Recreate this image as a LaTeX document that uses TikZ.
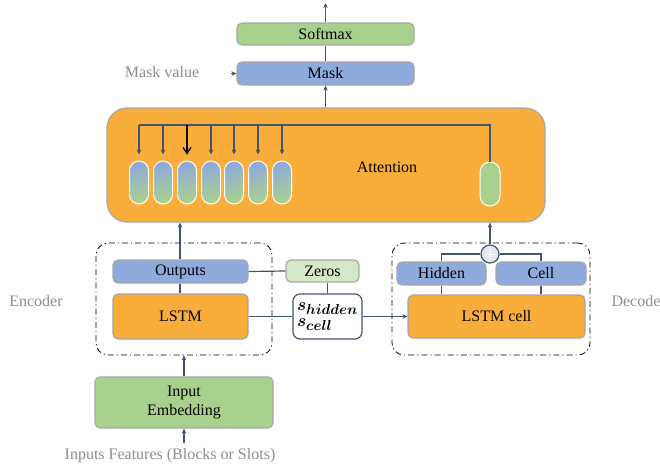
\documentclass[tikz,border=0pt]{standalone}
\usepackage{amsmath}
\usepackage{bm}
\usepackage{fontspec}
\setmainfont{Liberation Serif}
\usetikzlibrary{arrows.meta,calc}
\definecolor{orangeF}{HTML}{F9AE3B}
\definecolor{blueF}{HTML}{8FAADC}
\definecolor{greenF}{HTML}{A9D18E}
\definecolor{zeroF}{HTML}{D5E8C8}
\definecolor{edge}{HTML}{A6A6A6}
\definecolor{conn}{HTML}{44546A}
\definecolor{lbl}{HTML}{8C8C8C}
\definecolor{plusF}{HTML}{E3E8F5}
\tikzset{
  txt/.style={font=\fontsize{16}{18}\selectfont},
  box/.style={txt, draw=edge, line width=1.2pt, rounded corners=5pt, inner sep=0pt},
  frame/.style={draw=black, line width=0.8pt, dash pattern=on 6pt off 3pt on 1.2pt off 3pt, rounded corners=12pt, inner sep=0pt},
  capsule/.style={draw=white, line width=1pt, rounded corners=9.5pt, minimum width=19pt, minimum height=43pt, inner sep=0pt, top color=blueF, bottom color=greenF, shading angle=20},
  wire/.style={draw=conn, line width=1.2pt},
  arr/.style={wire, -{Stealth[length=5pt,width=4.5pt]}},
  gray label/.style={txt, text=lbl}
}
\begin{document}
\begin{tikzpicture}[x=1pt,y=-1pt]
\useasboundingbox (0,0) rectangle (660,467);
% nodes
\node[box, fill=greenF, minimum width=177pt, minimum height=22pt] (softmax) at (325.5,34) {Softmax};
\node[box, fill=blueF, minimum width=177pt, minimum height=23pt] (mask) at (325.5,73.5) {Mask};
\node[gray label] (maskval) at (162,72) {Mask value};
\node[box, fill=orangeF, rounded corners=20pt, minimum width=438pt, minimum height=114pt] (att) at (326,165) {};
\node[txt] (atttext) at (387,167) {Attention};
\foreach \i/\x in {1/139,2/163,3/187,4/211,5/234,6/258,7/282}{
  \node[capsule] (c\i) at (\x,182.5) {};
}
\node[draw=white, line width=1pt, fill=greenF, minimum width=20pt, minimum height=44pt, rounded corners=10pt, inner sep=0pt] (g) at (490,184) {};

\node[frame, minimum width=176pt, minimum height=112pt] (enc) at (184,299) {};
\node[box, fill=blueF, minimum width=135pt, minimum height=23pt] (outputs) at (180.5,271.5) {Outputs};
\node[box, fill=orangeF, minimum width=135pt, minimum height=45pt] (lstm) at (180.5,316.5) {LSTM};
\node[box, fill=zeroF, minimum width=73pt, minimum height=22pt] (zeros) at (322.5,271) {Zeros};
\node[box, draw=conn, fill=white, minimum width=69pt, minimum height=45pt, rounded corners=7pt, align=left, font=\fontsize{19}{16}\selectfont\boldmath] (sbox) at (327.5,316.5)
  {$\bm{s}_{\bm{hidden}}$\\$\bm{s}_{\bm{cell}}$};

\node[frame, minimum width=198pt, minimum height=112pt] (dec) at (491,299) {};
\node[box, fill=blueF, minimum width=89pt, minimum height=23pt] (hidden) at (441.5,273.5) {Hidden};
\node[box, fill=blueF, minimum width=90pt, minimum height=23pt] (cell) at (541,273.5) {Cell};
\node[box, fill=orangeF, minimum width=177pt, minimum height=43pt] (lstmcell) at (496.5,316.5) {LSTM cell};
\node[circle, draw=conn, line width=1.2pt, fill=plusF, minimum size=18pt, inner sep=0pt] (plus) at (490,254) {};
\draw[white, line width=0.6pt] ($(plus.center)+(-5,0)$) -- ($(plus.center)+(5,0)$)
  ($(plus.center)+(0,-5)$) -- ($(plus.center)+(0,5)$);

\node[box, fill=greenF, minimum width=178pt, minimum height=51pt, align=center, font=\fontsize{16}{19}\selectfont] (emb) at (184,402.5) {Input\\Embedding};
\node[gray label] (inputs) at (170,456) {Inputs Features (Blocks or Slots)};
\node[gray label] (encl) at (36,301) {Encoder};
\node[gray label] (decl) at (636,301) {Decode};

% coordinates
\coordinate (top) at (325.5,3);
\coordinate (bus) at (0,125);
\coordinate (mvstart) at (231,73.5);
\coordinate (instart) at (184,443);

% connectors
\draw[arr] (softmax.north) -- (top);
\draw[wire] (mask.north) -- (softmax.south);
\draw[arr] (att.north -| mask.south) -- (mask.south);
\draw[arr] (mvstart) -- (mask.west);
\draw[wire] (c1.north |- bus) -| (g.north);
\foreach \i in {1,2,4,5,6,7}{
  \draw[arr, shorten >=6pt] (c\i.north |- bus) -- (c\i.north);
}
\draw[black, line width=1.2pt, -{Straight Barb[length=6pt,width=8pt]}, shorten >=6pt] (c3.north |- bus) -- (c3.north);

\draw[arr] (outputs.north -| 180,0) -- (att.south -| 180,0);
\draw[wire] (outputs.south -| 180,0) -- (lstm.north -| 180,0);
\draw[wire] (outputs.east) -- (zeros.west);
\draw[wire] (sbox.north) -- (sbox.north |- zeros.south);
\draw[wire] (lstm.east) -- (sbox.west);
\draw[arr] (sbox.east) -- (lstmcell.west);
\draw[wire] (hidden.north) |- (plus.west);
\draw[wire] (cell.north) |- (plus.east);
\draw[wire] (hidden.south) -- (hidden.south |- lstmcell.north);
\draw[wire] (cell.south) -- (cell.south |- lstmcell.north);
\draw[arr] (plus.north) -- (plus.north |- att.south);
\draw[arr] (emb.north) -- (emb.north |- enc.south);
\draw[arr] (instart) -- (instart |- emb.south);
\end{tikzpicture}
\end{document}
